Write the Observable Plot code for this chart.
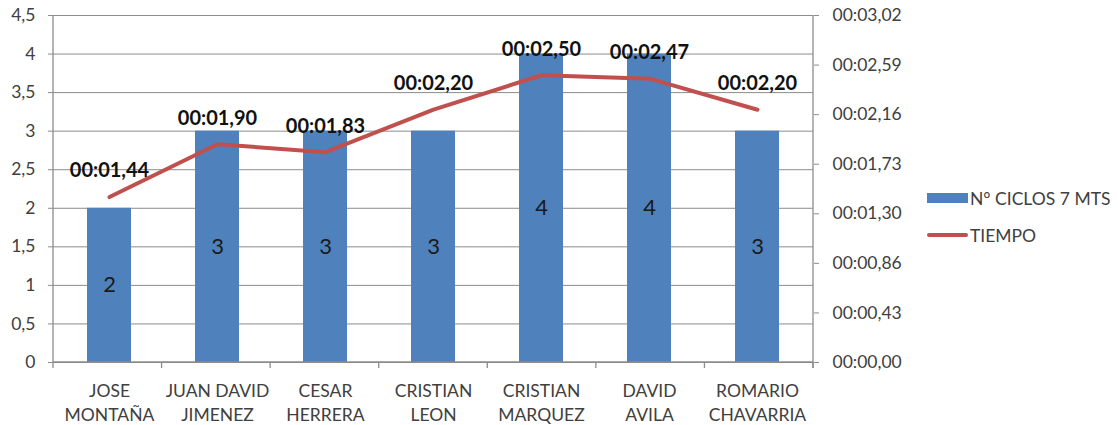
<!DOCTYPE html>
<html>
<head>
<meta charset="utf-8">
<script src="https://cdn.jsdelivr.net/npm/d3@7"></script>
<script src="https://cdn.jsdelivr.net/npm/@observablehq/plot@0.6"></script>
<style>
  html, body { margin: 0; padding: 0; background: #fff; }
  #wrap { position: relative; width: 1118px; height: 425px; font-family: Lato, "Open Sans", sans-serif; }
  .leg { position: absolute; left: 927px; display: flex; align-items: center; height: 20px; font-size: 17.5px; color: #404040; white-space: nowrap; }
  .sw-bar { width: 41px; height: 10px; background: #4F81BD; margin-right: 2px; }
  .sw-line { width: 41px; height: 4px; border-radius: 2px; background: #C0504D; margin-right: 2px; }
</style>
</head>
<body>
<div id="wrap"></div>
<script>
// ---- data ----
const categories = ["JOSE\nMONTAÑA", "JUAN DAVID\nJIMENEZ", "CESAR\nHERRERA", "CRISTIAN\nLEON", "CRISTIAN\nMARQUEZ", "DAVID\nAVILA", "ROMARIO\nCHAVARRIA"];
const ciclos = [2, 3, 3, 3, 4, 4, 3];
const tiempoSeg = [1.44, 1.90, 1.83, 2.20, 2.50, 2.47, 2.20];
const leftTicks = [0, 0.5, 1, 1.5, 2, 2.5, 3, 3.5, 4, 4.5];
const rightTickLabels = ["00:00,00", "00:00,43", "00:00,86", "00:01,30", "00:01,73", "00:02,16", "00:02,59", "00:03,02"];
const leftMax = 4.5;
const rightMax = 3.02;
const seriesNames = ["N° CICLOS 7 MTS", "TIEMPO"];

const data = categories.map((c, i) => ({ name: c, ciclos: ciclos[i], t: tiempoSeg[i] }));
const toLeft = t => t * leftMax / rightMax;
const fmtTime = t => "00:0" + t.toFixed(2).replace(".", ",");
const rightTicks = rightTickLabels.map((_, i) => i * leftMax / (rightTickLabels.length - 1));

const chart = Plot.plot({
  width: 1118,
  height: 425,
  marginLeft: 53,
  marginRight: 305,
  marginTop: 15,
  marginBottom: 63,
  style: { fontFamily: "Lato, 'Open Sans', sans-serif", fontSize: "17.5px", color: "#404040", background: "white" },
  x: { domain: categories, paddingInner: 0.59, paddingOuter: 0.295, label: null },
  y: { domain: [0, leftMax], label: null },
  marks: [
    Plot.gridY(leftTicks, { stroke: "#8c8c8c", strokeOpacity: 1 }),
    Plot.axisY(leftTicks, { anchor: "left", tickSize: 5, tickPadding: 13, stroke: "#8c8c8c", fill: "#404040", fontSize: 17.5, tickFormat: d => String(d).replace(".", ","), label: null }),
    Plot.axisY(rightTicks, { anchor: "right", tickSize: 5, tickPadding: 14, stroke: "#8c8c8c", fill: "#404040", fontSize: 17.5, tickFormat: d => rightTickLabels[Math.round(d * (rightTickLabels.length - 1) / leftMax)], label: null }),
    Plot.axisX({ tickSize: 0, tickPadding: 18, fontSize: 17.5, fill: "#404040", lineHeight: 1.35, label: null }),
    Plot.barY(data, { x: "name", y: "ciclos", fill: "#4F81BD" }),
    Plot.text(data, { x: "name", y: d => d.ciclos / 2, text: d => String(d.ciclos), fontSize: 22, fill: "#1a1a1a" }),
    Plot.line(data, { x: "name", y: d => toLeft(d.t), stroke: "#C0504D", strokeWidth: 4, strokeLinecap: "round", strokeLinejoin: "round" }),
    Plot.text(data, { x: "name", y: d => toLeft(d.t), text: d => fmtTime(d.t), fontWeight: "bold", fontSize: 20, fill: "#111", dy: -26 })
  ]
});

// axis lines and category boundary ticks, positioned from Plot's own scales
const sx = chart.scale("x"), sy = chart.scale("y");
const [r0, r1] = sx.range;
const step = (r1 - r0) / categories.length;
const y0 = sy.apply(0), yTop = sy.apply(leftMax);
const g = d3.select(chart).append("g").attr("stroke", "#8c8c8c").attr("stroke-width", 1.3);
g.append("line").attr("x1", r0).attr("x2", r0).attr("y1", yTop).attr("y2", y0);
g.append("line").attr("x1", r1).attr("x2", r1).attr("y1", yTop).attr("y2", y0 + 6);
g.append("line").attr("x1", r0).attr("x2", r1).attr("y1", y0).attr("y2", y0);
for (let i = 0; i <= categories.length; i++) {
  const xx = r0 + i * step;
  g.append("line").attr("x1", xx).attr("x2", xx).attr("y1", y0).attr("y2", y0 + 6);
}

const wrap = document.getElementById("wrap");
wrap.appendChild(chart);
const l1 = document.createElement("div");
l1.className = "leg"; l1.style.top = "188px";
l1.innerHTML = '<span class="sw-bar"></span><span></span>';
l1.lastChild.textContent = seriesNames[0];
const l2 = document.createElement("div");
l2.className = "leg"; l2.style.top = "225px";
l2.innerHTML = '<span class="sw-line"></span><span></span>';
l2.lastChild.textContent = seriesNames[1];
wrap.appendChild(l1);
wrap.appendChild(l2);
</script>
</body>
</html>
